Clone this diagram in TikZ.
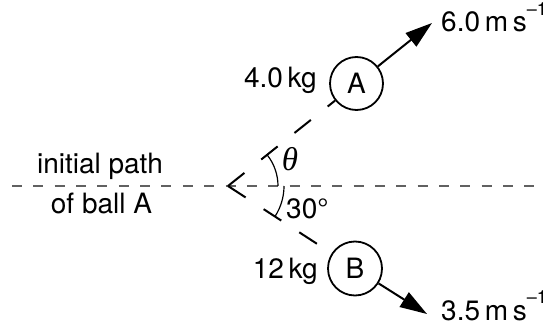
\documentclass[tikz,border=0pt]{standalone}
\usepackage{fontspec}
\setmainfont{TeX Gyre Heros}
\newfontfamily\thetafont{Liberation Serif}
\usetikzlibrary{arrows.meta}
\newcommand\unitsup[1]{\raisebox{16.5pt}{\fontsize{18}{18}\selectfont #1}}
\tikzset{
  lbl/.style={inner sep=0pt, font=\fontsize{28}{33}\selectfont},
  ball/.style={circle, draw, line width=1.8pt, fill=white, inner sep=0pt, font=\fontsize{28}{33}\selectfont},
  pathline/.style={line width=2pt, dash pattern=on 21pt off 21.5pt},
  axisline/.style={line width=1.5pt, black!62, dash pattern=on 10pt off 11.35pt},
  vel/.style={line width=2pt, -{Triangle[length=27pt,width=17pt]}},
  anglearc/.style={line width=1.2pt}
}
\begin{document}
\begin{tikzpicture}[x=1pt,y=-1pt]
\useasboundingbox (0,0) rectangle (557,329);
% horizontal initial path
\coordinate (L) at (12,186);
\coordinate (R) at (535,186);
\draw[axisline] (L) -- (R);
% vertex and balls
\coordinate (V) at (228,186);
\node[ball, minimum size=53pt] (A) at (356.5,83.5) {A};
\node[ball, minimum size=54pt] (B) at (355,268.5) {B};
\draw[pathline] (V) -- (A);
\draw[pathline] (V) -- (B);
% velocity arrows
\coordinate (TA) at (432,23);
\coordinate (TB) at (427,314);
\draw[vel] (A) -- (TA);
\draw[vel] (B) -- (TB);
% angle arcs
\draw[anglearc] (V) ++(50,0) arc[start angle=0, end angle=-38.3, radius=50];
\draw[anglearc] (V) ++(56,0) arc[start angle=0, end angle=32.6, radius=56];
% labels
\node[lbl, anchor=base] (ip) at (100,173) {initial path};
\node[lbl, anchor=base] (ob) at (101.5,213) {of ball A};
\node[lbl, anchor=base east] (mA) at (317,88) {4.0\,kg};
\node[lbl, anchor=base east] (mB) at (318,278) {12\,kg};
\node[lbl, anchor=base west] (vA) at (441,32) {6.0\,m\,s\unitsup{–1}};
\node[lbl, anchor=base west] (vB) at (441,320) {3.5\,m\,s\unitsup{–1}};
\node[lbl, anchor=base, font=\fontsize{33}{36}\selectfont\thetafont\itshape] (th) at (290,170) {θ};
\node[lbl, anchor=base west] (ang) at (286,218) {30°};
\end{tikzpicture}
\end{document}
